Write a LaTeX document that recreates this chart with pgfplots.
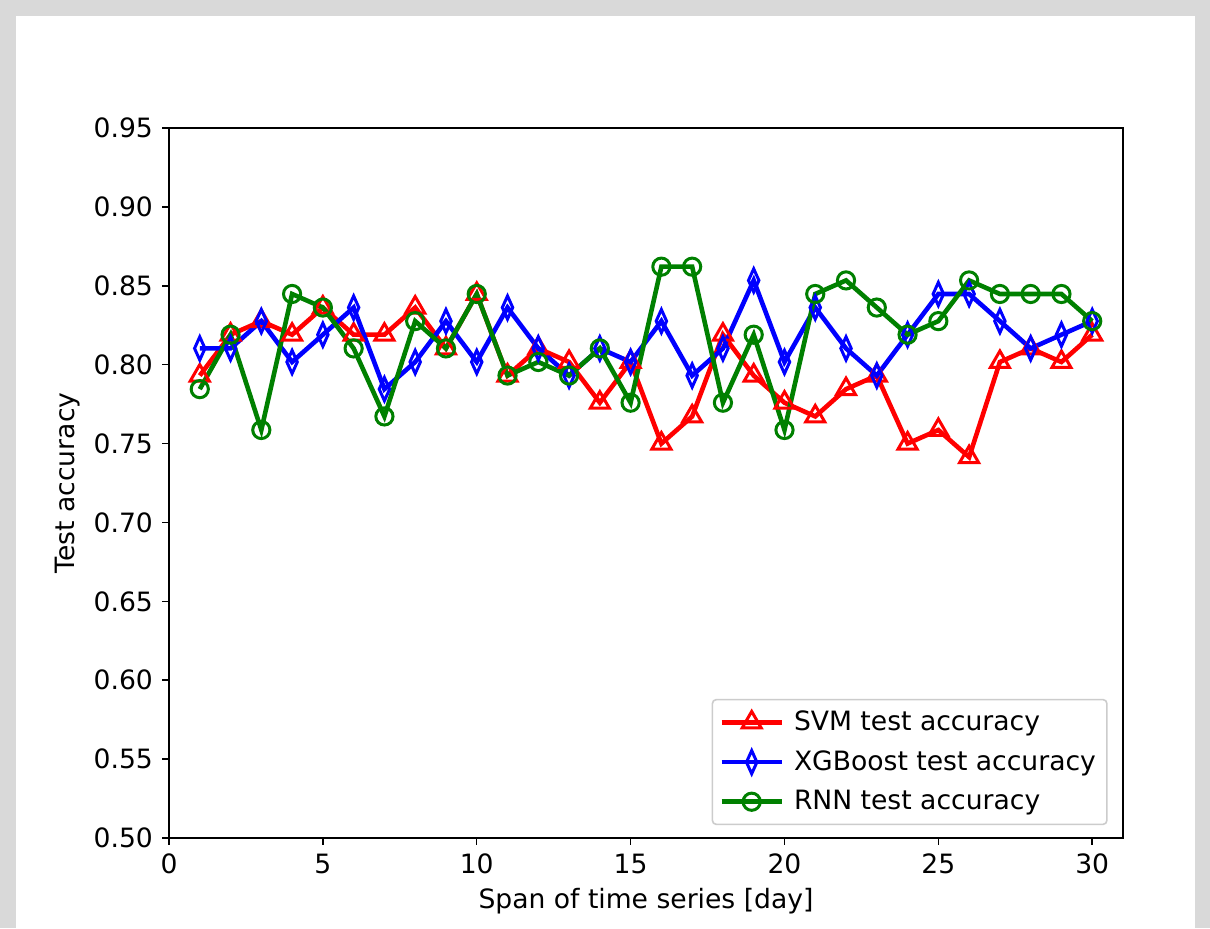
\documentclass[border=0pt]{standalone}
\usepackage{pgfplots}
\pgfplotsset{compat=1.18}
\usepackage{fontspec}
\setmainfont{DejaVu Sans}
\definecolor{mplgreen}{rgb}{0,0.5,0}
\definecolor{bordergray}{RGB}{217,217,217}
\begin{document}
\fontsize{13.3}{16}\selectfont
\begin{tikzpicture}
\fill[bordergray] (-84.5pt,-45pt) rectangle (520.5pt,419pt);
\fill[white] (-76.5pt,-45pt) rectangle (513pt,411pt);
\useasboundingbox (-84.5pt,-45pt) rectangle (520.5pt,419pt);
\begin{axis}[
  at={(0,0)}, anchor=south west,
  scale only axis, width=477pt, height=355pt,
  xmin=0, xmax=31, ymin=0.5, ymax=0.95,
  xtick={0,5,10,15,20,25,30},
  ytick={0.50,0.55,0.60,0.65,0.70,0.75,0.80,0.85,0.90,0.95},
  yticklabel style={/pgf/number format/.cd, fixed, fixed zerofill, precision=2},
  /pgf/number format/assume math mode=true,
  tick align=outside, tick pos=left,
  major tick length=3.4pt,
  every tick/.style={black, line width=0.75pt},
  axis line style={line width=0.75pt},
  ticklabel style={font=\fontsize{13.3}{16}\selectfont},
  label style={font=\fontsize{13.3}{16}\selectfont},
  xlabel={Span of time series [day]},
  ylabel={Test accuracy},
  xlabel style={yshift=2pt},
  ylabel style={yshift=-2pt},
  legend cell align=left,
  legend style={at={(0.984,0.018)}, anchor=south east, draw=black!20, rounded corners=2pt, line width=0.8pt, font=\fontsize{13.3}{16}\selectfont, row sep=4pt, column sep=3pt, inner sep=3.5pt},
  legend image code/.code={\draw[mark repeat=2,mark phase=2] plot coordinates {(0pt,0pt) (15pt,0pt) (30pt,0pt)};},
  every axis plot/.append style={line width=2.3pt},
]
\addplot[red, mark=triangle, mark size=5.5pt, mark options={fill=white, line width=1.5pt}] coordinates {
(1,0.7931) (2,0.8190) (3,0.8276) (4,0.8190) (5,0.8362) (6,0.8190) (7,0.8190) (8,0.8362) (9,0.8103) (10,0.8448)
(11,0.7931) (12,0.8103) (13,0.8017) (14,0.7759) (15,0.8017) (16,0.7500) (17,0.7672) (18,0.8190) (19,0.7931) (20,0.7759)
(21,0.7672) (22,0.7845) (23,0.7931) (24,0.7500) (25,0.7586) (26,0.7414) (27,0.8017) (28,0.8103) (29,0.8017) (30,0.8190)};
\addlegendentry{SVM test accuracy}
\addplot[blue, mark=diamond, mark size=5.8pt, mark options={fill=white, line width=1.5pt, xscale=0.6}] coordinates {
(1,0.8103) (2,0.8103) (3,0.8276) (4,0.8017) (5,0.8190) (6,0.8362) (7,0.7845) (8,0.8017) (9,0.8276) (10,0.8017)
(11,0.8362) (12,0.8103) (13,0.7931) (14,0.8103) (15,0.8017) (16,0.8276) (17,0.7931) (18,0.8103) (19,0.8534) (20,0.8017)
(21,0.8362) (22,0.8103) (23,0.7931) (24,0.8190) (25,0.8448) (26,0.8448) (27,0.8276) (28,0.8103) (29,0.8190) (30,0.8276)};
\addlegendentry{XGBoost test accuracy}
\addplot[mplgreen, mark=o, mark size=4.3pt, mark options={fill=white, line width=1.5pt}] coordinates {
(1,0.7845) (2,0.8190) (3,0.7586) (4,0.8448) (5,0.8362) (6,0.8103) (7,0.7672) (8,0.8276) (9,0.8103) (10,0.8448)
(11,0.7931) (12,0.8017) (13,0.7931) (14,0.8103) (15,0.7759) (16,0.8621) (17,0.8621) (18,0.7759) (19,0.8190) (20,0.7586)
(21,0.8448) (22,0.8534) (23,0.8362) (24,0.8190) (25,0.8276) (26,0.8534) (27,0.8448) (28,0.8448) (29,0.8448) (30,0.8276)};
\addlegendentry{RNN test accuracy}
\end{axis}
\end{tikzpicture}
\end{document}
